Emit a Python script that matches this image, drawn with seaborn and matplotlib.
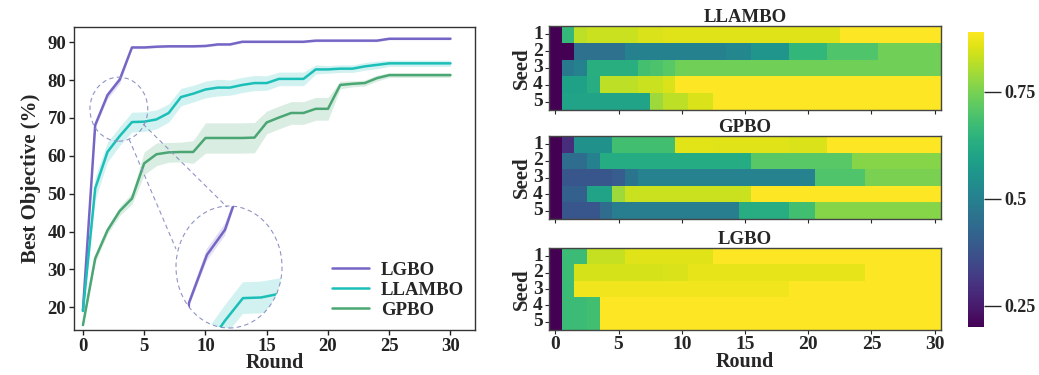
import numpy as np
import pandas as pd
import matplotlib
matplotlib.use("Agg")
import matplotlib.pyplot as plt
import seaborn as sns
from matplotlib.patches import Ellipse
from matplotlib.lines import Line2D

# ---------------- data ----------------
rounds = list(range(31))
methods = ["LGBO", "LLAMBO", "GPBO"]

lgbo_mean = [19.2, 68.1, 76.0, 80.1, 88.6, 88.6, 88.8, 88.9, 88.9, 88.9, 89.0,
             89.4, 89.4, 90.1, 90.1, 90.1, 90.1, 90.1, 90.1, 90.4, 90.4, 90.4,
             90.4, 90.4, 90.4, 90.9, 90.9, 90.9, 90.9, 90.9, 90.9]
lgbo_std = [0.3, 0.6, 1.0, 1.0, 0.3, 0.3, 0.3, 0.3, 0.3, 0.3, 0.3, 0.3, 0.3,
            0.3, 0.3, 0.3, 0.3, 0.3, 0.3, 0.3, 0.3, 0.3, 0.3, 0.3, 0.3, 0.3,
            0.3, 0.3, 0.3, 0.3, 0.3]
llambo_mean = [19.0, 51.4, 61.0, 65.2, 68.9, 69.0, 69.6, 71.3, 75.5, 76.4, 77.5,
               78.0, 78.0, 78.7, 79.2, 79.2, 80.3, 80.3, 80.3, 82.8, 82.8, 83.0,
               83.0, 83.6, 84.0, 84.4, 84.4, 84.4, 84.4, 84.4, 84.4]
llambo_std = [0.5, 3.0, 2.6, 2.5, 2.6, 2.6, 2.5, 2.4, 2.3, 2.2, 2.2, 2.2, 2.0,
              2.0, 2.0, 1.9, 1.8, 1.8, 1.8, 1.2, 1.0, 1.0, 1.0, 1.0, 1.0, 0.8,
              0.8, 0.8, 0.8, 0.8, 0.8]
gpbo_mean = [15.3, 32.9, 40.3, 45.4, 48.7, 58.0, 60.4, 60.9, 61.0, 61.0, 64.7,
             64.7, 64.7, 64.7, 64.8, 68.8, 70.1, 71.3, 71.3, 72.4, 72.4, 78.7,
             79.0, 79.2, 80.5, 81.3, 81.3, 81.3, 81.3, 81.3, 81.3]
gpbo_std = [0.3, 1.0, 1.0, 1.2, 1.5, 3.0, 3.0, 2.6, 2.6, 3.0, 4.0, 4.0, 4.0,
            4.0, 4.0, 3.0, 3.0, 3.0, 3.0, 3.0, 3.0, 1.0, 0.8, 0.8, 0.8, 0.6,
            0.6, 0.6, 0.6, 0.6, 0.6]

seeds = ["1", "2", "3", "4", "5"]
round_ticks = [0, 5, 10, 15, 20, 25, 30]

llambo_s1 = [0.20, 0.66, 0.82] + [0.835] * 4 + [0.85] * 2 + [0.855] * 14 + [0.89] * 8
llambo_s2 = [0.20] * 2 + [0.455] * 4 + [0.50] * 8 + [0.52] * 2 + [0.56] * 3 + [0.655] * 3 + [0.70] * 4 + [0.74] * 5
llambo_s3 = [0.20, 0.48, 0.50] + [0.635] * 4 + [0.685, 0.695, 0.71] + [0.74] * 21
llambo_s4 = [0.20] + [0.595] * 2 + [0.63] + [0.82] * 3 + [0.835] * 2 + [0.85] + [0.89] * 21
llambo_s5 = [0.20] + [0.60] * 7 + [0.79] + [0.82] * 2 + [0.85] * 2 + [0.89] * 18

gpbo_s1 = [0.20, 0.29] + [0.545] * 3 + [0.68] * 5 + [0.86] * 3 + [0.855] * 6 + [0.85] * 3 + [0.89] * 9
gpbo_s2 = [0.20] + [0.445] * 2 + [0.50] + [0.625] * 12 + [0.71] * 8 + [0.765] * 7
gpbo_s3 = [0.20] + [0.385] * 4 + [0.40, 0.465] + [0.505] * 14 + [0.70] * 4 + [0.75] * 6
gpbo_s4 = [0.20] + [0.41] * 2 + [0.60] * 2 + [0.79] + [0.835] * 10 + [0.89] * 15
gpbo_s5 = [0.20] + [0.385] * 3 + [0.44] + [0.49] * 10 + [0.63] * 4 + [0.68] * 2 + [0.765] * 10

lgbo_s1 = [0.20] + [0.67] * 2 + [0.83] * 3 + [0.855] * 7 + [0.89] * 18
lgbo_s2 = [0.20, 0.67] + [0.845] * 7 + [0.85] * 2 + [0.865] * 14 + [0.89] * 6
lgbo_s3 = [0.20, 0.67] + [0.875] * 17 + [0.89] * 12
lgbo_s4 = [0.20] + [0.67] * 2 + [0.68] + [0.89] * 27
lgbo_s5 = [0.20] + [0.67] * 2 + [0.68] + [0.89] * 27

cbar_ticks = [0.25, 0.5, 0.75]
cbar_labels = ["0.25", "0.5", "0.75"]

# ---------------- style ----------------
sns.set_style("ticks")
plt.rcParams["font.family"] = ["Liberation Serif", "DejaVu Serif"]
plt.rcParams["font.weight"] = "bold"
plt.rcParams["axes.labelweight"] = "bold"
plt.rcParams["axes.titleweight"] = "bold"
plt.rcParams["axes.edgecolor"] = "#333333"

colors = {"LGBO": "#7566c6", "LLAMBO": "#1bbfb8", "GPBO": "#4aa673"}
means = {"LGBO": lgbo_mean, "LLAMBO": llambo_mean, "GPBO": gpbo_mean}
stds = {"LGBO": lgbo_std, "LLAMBO": llambo_std, "GPBO": gpbo_std}

df = pd.concat([pd.DataFrame({"Round": rounds, "Best": means[m], "Method": m})
                for m in methods], ignore_index=True)

W, H = 1039, 375
fig = plt.figure(figsize=(W / 100, H / 100), dpi=100)


def fx(px):
    return px / W


def fy(py):
    return 1 - py / H


# ---------------- line chart ----------------
ax = fig.add_axes([fx(74), fy(330), fx(475) - fx(74), fy(27) - fy(330)])


def draw_lines(a, legend):
    for m in methods:
        lo = np.array(means[m]) - np.array(stds[m])
        hi = np.array(means[m]) + np.array(stds[m])
        a.fill_between(rounds, lo, hi, color=colors[m], alpha=0.2, linewidth=0)
    sns.lineplot(data=df, x="Round", y="Best", hue="Method", hue_order=methods,
                 palette=colors, linewidth=1.8, ax=a, legend=legend)


draw_lines(ax, True)
ax.set_xlim(-0.73, 32.0)
ax.set_ylim(14, 94)
ax.set_xticks(round_ticks)
ax.set_yticks([20, 30, 40, 50, 60, 70, 80, 90])
ax.tick_params(labelsize=13.5, length=3.5, width=1, colors="#222222", pad=2)
ax.set_xlabel("Round", fontsize=14.5, labelpad=-1)
ax.set_ylabel("Best Objective (%)", fontsize=15, labelpad=5)
for s in ax.spines.values():
    s.set_visible(True)
    s.set_linewidth(1.0)
leg = ax.legend(loc="lower right", frameon=False, fontsize=13.5,
                handlelength=2.0, handletextpad=0.6, labelspacing=0.15,
                borderaxespad=0.2)

# small zoom circle on main plot
ax.add_patch(Ellipse((2.93, 72.3), width=4.72, height=16.9, fill=False,
                     ls=(0, (4, 3)), ec="#8f94c4", lw=0.8, zorder=5))

# inset magnified view
axin = fig.add_axes([fx(176), fy(328), fx(282) - fx(176), fy(206) - fy(328)])
clip = Ellipse((0.5, 0.5), 1, 1, transform=axin.transAxes, fc="white", ec="none")
axin.add_patch(clip)
draw_lines(axin, False)
axin.set_xlim(0.28, 6.17)
axin.set_ylim(64.0, 84.0)
for art in axin.lines + axin.collections:
    art.set_clip_path(clip)
axin.axis("off")
axin.add_patch(Ellipse((0.5, 0.5), 1, 1, transform=axin.transAxes, fill=False,
                       ls=(0, (4, 3)), ec="#8f94c4", lw=0.8, clip_on=False))

for (x0, y0, x1, y1) in [(129, 139, 176, 249), (143, 124, 227, 207)]:
    fig.add_artist(Line2D([fx(x0), fx(x1)], [fy(y0), fy(y1)],
                          transform=fig.transFigure, color="#8f94c4",
                          lw=0.8, ls=(0, (4, 3))))

# ---------------- heatmaps ----------------
heat = {
    "LLAMBO": [llambo_s1, llambo_s2, llambo_s3, llambo_s4, llambo_s5],
    "GPBO": [gpbo_s1, gpbo_s2, gpbo_s3, gpbo_s4, gpbo_s5],
    "LGBO": [lgbo_s1, lgbo_s2, lgbo_s3, lgbo_s4, lgbo_s5],
}
boxes = {"LLAMBO": (26, 110), "GPBO": (136, 219), "LGBO": (248, 330)}
cax = fig.add_axes([fx(968), fy(327), fx(984) - fx(968), fy(32) - fy(327)])

for i, name in enumerate(["LLAMBO", "GPBO", "LGBO"]):
    top, bot = boxes[name]
    hax = fig.add_axes([fx(549), fy(bot), fx(941) - fx(549), fy(top) - fy(bot)])
    mat = pd.DataFrame(heat[name], index=seeds, columns=rounds)
    last = name == "LGBO"
    sns.heatmap(mat, cmap="viridis", vmin=0.2, vmax=0.89, ax=hax,
                cbar=last, cbar_ax=cax if last else None,
                cbar_kws={"ticks": cbar_ticks} if last else None)
    hax.set_title(name, fontsize=13.5, pad=3)
    hax.set_xticks(np.array(round_ticks) + 0.5)
    if last:
        hax.set_xticklabels([str(t) for t in round_ticks], rotation=0, fontsize=14)
        hax.set_xlabel("Round", fontsize=14.5, labelpad=-1)
    else:
        hax.set_xticklabels([])
        hax.set_xlabel("")
    hax.set_yticks(np.arange(5) + 0.5)
    hax.set_yticklabels(seeds, rotation=0, fontsize=14)
    hax.set_ylabel("Seed", fontsize=15, labelpad=1)
    hax.tick_params(length=3, width=0.8, pad=1.5)
    for s in hax.spines.values():
        s.set_visible(True)
        s.set_color("#444444")
        s.set_linewidth(1.0)

cax.set_yticks(cbar_ticks)
cax.set_yticklabels(cbar_labels, fontsize=13)
cax.tick_params(length=12, width=1, pad=3)
for s in cax.spines.values():
    s.set_visible(False)

fig.savefig("out.png", dpi=100)
